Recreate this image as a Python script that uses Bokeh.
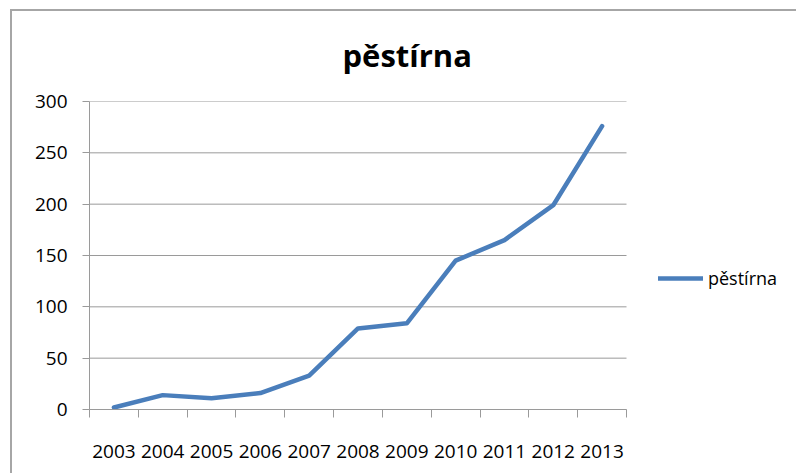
from bokeh.plotting import figure
from bokeh.models import (Range1d, FixedTicker, Legend, LegendItem, ColumnDataSource, Title)
from bokeh.embed import file_html
from bokeh.resources import INLINE
import numpy as np

# ---- data ----
years = ["2003", "2004", "2005", "2006", "2007", "2008", "2009", "2010", "2011", "2012", "2013"]
values = [2, 14, 11, 16, 33, 79, 84, 145, 165, 199, 276]
series_name = "pěstírna"
title_text = "pěstírna"
y_ticks = [0, 50, 100, 150, 200, 250, 300]

BLUE = "#4A7EBB"
GRAY = "#9a9a9a"
FONT = "Open Sans"

n = len(years)
centers = list(np.arange(n) + 0.5)
bounds = list(range(n + 1))

PLOT_W = 537       # width of the category area in px
EXTRA_W = 170      # legend area to the right (inside the frame, no grid drawn there)
x_end = n * (PLOT_W + EXTRA_W) / PLOT_W

p = figure(frame_width=PLOT_W + EXTRA_W, frame_height=308, output_backend="svg",
           toolbar_location=None, x_range=Range1d(0, x_end), y_range=Range1d(0, 300),
           min_border_left=89, min_border_right=0, min_border_top=101, min_border_bottom=64)
p.outline_line_color = None
p.background_fill_color = "white"
p.background_fill_alpha = 0
p.border_fill_alpha = 0
p.styles = {
    "background": ("linear-gradient(#a6a6a6, #a6a6a6) 10px 9px / 2px 100% no-repeat, "
                   "linear-gradient(#a6a6a6, #a6a6a6) 10px 9px / 100% 2px no-repeat"),
}

t = Title(text=title_text, align="left", text_font=FONT, text_font_size="31px",
          text_font_style="bold", text_color="black", offset=253, standoff=52)
p.add_layout(t, "above")

# horizontal gridlines over the category area only
grid_src = ColumnDataSource(dict(x0=[0] * len(y_ticks), x1=[n] * len(y_ticks), y=y_ticks))
p.segment(x0="x0", x1="x1", y0="y", y1="y", source=grid_src, line_color=GRAY, line_width=1)

src = ColumnDataSource(dict(x=centers, y=values))
r = p.line("x", "y", source=src, line_color=BLUE, line_width=4.5,
           line_cap="round", line_join="round")

# x axis: labels at centers, ticks at category boundaries
xa = p.xaxis[0]
xa.bounds = (0, n)
xa.ticker = FixedTicker(ticks=centers, minor_ticks=bounds)
xa.major_label_overrides = {c: y for c, y in zip(centers, years)}
xa.major_tick_out = 0
xa.major_tick_in = 0
xa.minor_tick_out = 8
xa.minor_tick_in = 0
xa.minor_tick_line_color = GRAY
xa.axis_line_color = GRAY
xa.major_label_standoff = 27
xa.major_label_text_font = FONT
xa.major_label_text_font_size = "19px"
xa.major_label_text_color = "black"

ya = p.yaxis[0]
ya.ticker = FixedTicker(ticks=y_ticks)
ya.major_tick_out = 7
ya.major_tick_in = 0
ya.minor_tick_line_color = None
ya.major_tick_line_color = GRAY
ya.axis_line_color = GRAY
ya.major_label_standoff = 15
ya.major_label_text_font = FONT
ya.major_label_text_font_size = "19px"
ya.major_label_text_color = "black"

p.xgrid.grid_line_color = None
p.ygrid.grid_line_color = None

legend = Legend(items=[LegendItem(label=series_name, renderers=[r])],
                location=(569, 119), border_line_color=None, background_fill_alpha=0,
                padding=0, margin=0, glyph_width=45, glyph_height=20, label_standoff=5,
                label_text_font=FONT, label_text_font_size="18px", label_text_color="black")
p.add_layout(legend, "center")

open("out.html", "w").write(file_html(p, INLINE))
